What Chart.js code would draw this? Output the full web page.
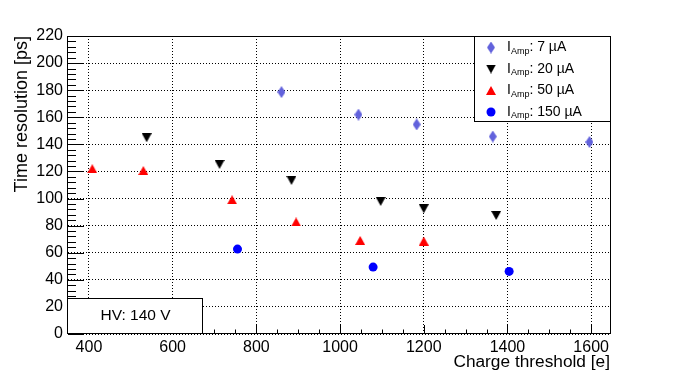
<!DOCTYPE html>
<html>
<head>
<meta charset="utf-8">
<script src="https://cdn.jsdelivr.net/npm/chart.js@4.4.0/dist/chart.umd.min.js"></script>
<style>
  html, body { margin: 0; padding: 0; background: #fff; }
  #wrap { width: 678px; height: 373px; }
</style>
</head>
<body>
<div id="wrap"><canvas id="chart" width="678" height="373"></canvas></div>
<script>
const FONT = "'Liberation Sans', Arial, Helvetica, sans-serif";

// data
const seriesLabels = ['7 µA', '20 µA', '50 µA', '150 µA'];
const seriesColors = ['#6262dc', '#000000', '#ff0000', '#0000ff'];

const thr7 = [860, 1044, 1183, 1365, 1596];
const res7 = [178.6, 162, 154.7, 145.8, 141.7];

const thr20 = [538, 712, 884, 1097, 1200, 1373];
const res20 = [144.9, 125.2, 113.4, 97.9, 92.5, 87.5];

const thr50 = [408, 530, 742, 895, 1048, 1200];
const res50 = [122, 120.7, 99.1, 82.7, 69.1, 68.6];

const thr150 = [755, 1079, 1404];
const res150 = [62.7, 49.4, 46.2];

const xTicks = [400, 600, 800, 1000, 1200, 1400, 1600];
const yTicks = [0, 20, 40, 60, 80, 100, 120, 140, 160, 180, 200, 220];

function toPoints(xs, ys) {
    return xs.map((v, i) => ({ x: v, y: ys[i] }));
}

// small canvases used as marker shapes (ROOT style markers)
function makeMarker(kind, color) {
    const c = document.createElement('canvas');
    let w = 10, h = 9;
    if (kind === 'diamond') { w = 8; h = 12; }
    c.width = w;
    c.height = h;
    const g = c.getContext('2d');
    g.fillStyle = color;
    g.beginPath();
    if (kind === 'diamond') {
        g.moveTo(w / 2, 0); g.lineTo(w, h / 2); g.lineTo(w / 2, h); g.lineTo(0, h / 2);
    } else if (kind === 'down') {
        g.moveTo(0, 0); g.lineTo(w, 0); g.lineTo(w / 2, h);
    } else {
        g.moveTo(w / 2, 0); g.lineTo(w, h); g.lineTo(0, h);
    }
    g.closePath();
    g.fill();
    return c;
}

const markers = [
    makeMarker('diamond', seriesColors[0]),
    makeMarker('down', seriesColors[1]),
    makeMarker('up', seriesColors[2]),
    null
];

const rootFrame = {
    id: 'rootFrame',
    afterDraw(chart) {
        const { ctx, chartArea: a, scales: { x, y } } = chart;
        ctx.save();
        ctx.strokeStyle = '#000';
        ctx.lineWidth = 1;

        // ticks inside the frame
        ctx.beginPath();
        for (let v = 350; v <= 1645; v += 50) {
            const px = Math.round(x.getPixelForValue(v)) + 0.5;
            const len = v % 200 === 0 ? 9 : 4.5;
            ctx.moveTo(px, a.bottom);
            ctx.lineTo(px, a.bottom - len);
        }
        for (let v = 0; v <= 220; v += 4) {
            const py = Math.round(y.getPixelForValue(v)) + 0.5;
            const len = v % 20 === 0 ? 16 : 8;
            ctx.moveTo(a.left, py);
            ctx.lineTo(a.left + len, py);
        }
        ctx.stroke();

        // frame
        ctx.strokeRect(a.left - 0.5, a.top + 0.5, a.right - a.left + 1, a.bottom - a.top - 1);

        // legend box
        const lx = 474, ly = 36, lw = 136, lh = 85;
        ctx.fillStyle = '#fff';
        ctx.fillRect(lx, ly, lw, lh);
        ctx.strokeRect(lx + 0.5, ly + 0.5, lw, lh);
        ctx.textBaseline = 'middle';
        ctx.textAlign = 'left';
        seriesLabels.forEach((lab, i) => {
            const cy = 47.5 + i * 21.5;
            if (markers[i]) {
                const m = markers[i];
                ctx.drawImage(m, 491 - m.width / 2, cy - m.height / 2);
            } else {
                ctx.fillStyle = seriesColors[i];
                ctx.beginPath();
                ctx.arc(491, cy, 4.5, 0, Math.PI * 2);
                ctx.fill();
            }
            ctx.fillStyle = '#000';
            let tx = 507;
            ctx.font = '14px ' + FONT;
            ctx.fillText('I', tx, cy);
            tx += ctx.measureText('I').width;
            ctx.font = '9px ' + FONT;
            ctx.fillText('Amp', tx, cy + 4);
            tx += ctx.measureText('Amp').width;
            ctx.font = '14px ' + FONT;
            ctx.fillText(': ' + lab, tx, cy);
        });

        // HV box
        const bx = 68, by = 298, bw = 135, bh = 36;
        ctx.fillStyle = '#fff';
        ctx.fillRect(bx - 1, by, bw, bh);
        ctx.strokeRect(bx - 0.5, by + 0.5, bw, bh - 1);
        ctx.fillStyle = '#000';
        ctx.font = '15.5px ' + FONT;
        ctx.textAlign = 'center';
        ctx.fillText('HV: 140 V', bx + bw / 2, by + bh / 2);

        // axis titles
        ctx.textAlign = 'right';
        ctx.textBaseline = 'alphabetic';
        ctx.font = '17.3px ' + FONT;
        ctx.fillText('Charge threshold [e]', a.right, 367);
        ctx.font = '18px ' + FONT;
        ctx.save();
        ctx.translate(27, a.top);
        ctx.rotate(-Math.PI / 2);
        ctx.fillText('Time resolution [ps]', 0, 0);
        ctx.restore();

        ctx.restore();
    }
};

const tickFont = { family: FONT, size: 16 };

new Chart(document.getElementById('chart'), {
    type: 'scatter',
    data: {
        datasets: [
            { label: seriesLabels[0], data: toPoints(thr7, res7), pointStyle: markers[0], pointRadius: 5 },
            { label: seriesLabels[1], data: toPoints(thr20, res20), pointStyle: markers[1], pointRadius: 5 },
            { label: seriesLabels[2], data: toPoints(thr50, res50), pointStyle: markers[2], pointRadius: 5 },
            {
                label: seriesLabels[3], data: toPoints(thr150, res150), pointStyle: 'circle',
                pointRadius: 4.5, backgroundColor: seriesColors[3], borderWidth: 0
            }
        ]
    },
    options: {
        responsive: false,
        animation: false,
        layout: { padding: { top: 36, right: 68, left: 0, bottom: 0 } },
        plugins: { legend: { display: false }, tooltip: { enabled: false } },
        scales: {
            x: {
                type: 'linear',
                min: 350,
                max: 1645,
                afterBuildTicks: s => { s.ticks = xTicks.map(v => ({ value: v })); },
                afterFit: s => { s.height = 39; },
                grid: { color: '#000', lineWidth: 1, drawTicks: false },
                border: { display: false, dash: [1, 2] },
                ticks: {
                    font: tickFont, color: '#000', padding: 4, maxRotation: 0, autoSkip: false,
                    callback: v => String(v)
                }
            },
            y: {
                type: 'linear',
                min: 0,
                max: 220,
                afterBuildTicks: s => { s.ticks = yTicks.map(v => ({ value: v })); },
                afterFit: s => { s.width = 68; },
                grid: { color: '#000', lineWidth: 1, drawTicks: false },
                border: { display: false, dash: [1, 2] },
                ticks: {
                    font: tickFont, color: '#000', padding: 5, autoSkip: false,
                    callback: v => String(v)
                }
            }
        }
    },
    plugins: [rootFrame]
});
</script>
</body>
</html>
